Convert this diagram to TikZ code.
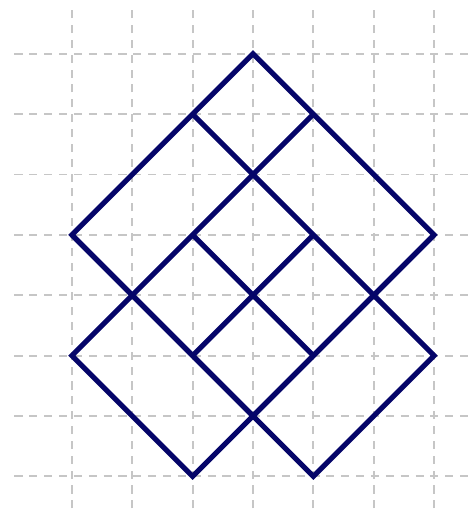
\documentclass[tikz,border=0pt]{standalone}
\usepackage{xcolor}
\definecolor{mlnavy}{RGB}{5,5,105}
\usetikzlibrary{calc}

\begin{document}
\begin{tikzpicture}[
  gridline/.style={gray!45,line width=0.9pt,dash pattern=on 3.8pt off 3.2pt},
  figline/.style={mlnavy,line width=2.4pt}]
  \useasboundingbox (-1.19,-0.64) rectangle (6.61,7.89);
  % background grid
  \draw[gridline] (-0.95,-0.53) grid (6.61,7.73);
  % corner points
  \coordinate (top) at (3,7);
  \coordinate (tl) at (2,6);
  \coordinate (tr) at (4,6);
  \coordinate (left) at (0,4);
  \coordinate (right) at (6,4);
  \coordinate (ml) at (2,4);
  \coordinate (mr) at (4,4);
  \coordinate (bl) at (2,2);
  \coordinate (br) at (4,2);
  \coordinate (lleft) at (0,2);
  \coordinate (lright) at (6,2);
  \coordinate (bot) at (3,1);
  \coordinate (fl) at (2,0);
  \coordinate (fr) at (4,0);
  % big square and the two rectangles
  \draw[figline] (top) -- (right) -- (bot) -- (left) -- cycle;
  \draw[figline] (tl) -- (lright) -- (fr) -- (left);
  \draw[figline] (tr) -- (lleft) -- (fl) -- (right);
  % middle cross
  \draw[figline] (ml) -- (br);
  \draw[figline] (mr) -- (bl);
\end{tikzpicture}
\end{document}
